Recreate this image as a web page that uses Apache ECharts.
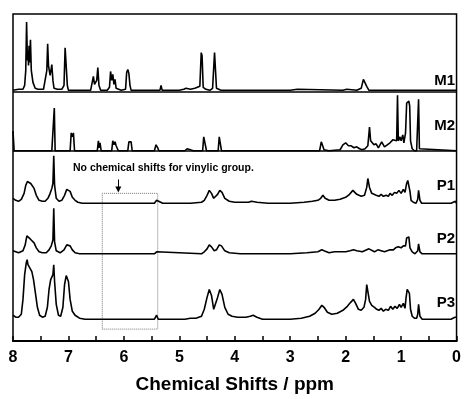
<!DOCTYPE html>
<html>
<head>
<meta charset="utf-8">
<script src="https://cdn.jsdelivr.net/npm/echarts@6/dist/echarts.min.js"></script>
<style>
  html, body { margin: 0; padding: 0; background: #fff; }
  #main { width: 464px; height: 399px; }
</style>
</head>
<body>
<div id="main"></div>
<script>
// [ppm, intensity above the trace's own baseline]
const m1 = [
  [8.0, 0], [7.9, 1], [7.82, 1], [7.79, 5], [7.77, 20], [7.755, 69], [7.74, 30], [7.73, 40], [7.72, 25],
  [7.71, 45], [7.70, 28], [7.685, 51], [7.67, 20], [7.64, 8], [7.6, 2], [7.55, 1], [7.45, 1], [7.42, 3],
  [7.39, 20], [7.375, 47], [7.36, 25], [7.33, 15], [7.30, 26], [7.28, 10], [7.26, 2], [7.2, 1], [7.12, 1],
  [7.08, 5], [7.06, 43], [7.04, 43], [7.02, 5], [7.0, 0], [6.9, 0], [6.6, 0], [6.57, 2], [6.55, 14],
  [6.53, 6], [6.49, 10], [6.47, 23], [6.45, 5], [6.42, 0], [6.3, 0], [6.26, 3], [6.24, 19], [6.22, 10],
  [6.2, 16], [6.18, 6], [6.16, 11], [6.14, 2], [6.05, 0], [5.97, 1], [5.95, 18], [5.93, 21], [5.91, 17],
  [5.89, 5], [5.87, 0], [5.7, 0], [5.35, 0], [5.33, 5], [5.31, 0], [5.0, 0], [4.92, 1], [4.88, 2],
  [4.8, 1], [4.72, 2], [4.63, 4], [4.605, 38], [4.59, 35], [4.57, 3], [4.52, 1], [4.45, 0], [4.40, 2],
  [4.365, 38], [4.345, 38], [4.33, 2], [4.25, 0], [3.0, 0], [2.87, 1], [2.85, 0], [2.05, 0], [1.98, 1],
  [1.8, 0], [1.72, 2], [1.68, 11], [1.65, 13], [1.62, 4], [1.58, 0], [0, 0]
];
const m2 = [
  [8.0, 20], [7.98, 0], [7.3, 0], [7.27, 0], [7.255, 43], [7.24, 0], [6.97, 0], [6.95, 18], [6.93, 14],
  [6.91, 18], [6.89, 0], [6.48, 0], [6.46, 10], [6.45, 3], [6.43, 8], [6.41, 0], [6.22, 0], [6.2, 10],
  [6.18, 6], [6.16, 9], [6.14, 5], [6.12, 7], [6.1, 0], [5.93, 0], [5.91, 9], [5.89, 8], [5.87, 9],
  [5.85, 0], [5.45, 0], [5.42, 6], [5.39, 3], [5.37, 0], [4.9, 0], [4.86, 2], [4.8, 1], [4.75, 0],
  [4.58, 0], [4.56, 14], [4.53, 14], [4.51, 0], [4.3, 0], [4.28, 14], [4.26, 14], [4.24, 0], [2.8, 0],
  [2.47, 0], [2.44, 9], [2.41, 8], [2.39, 1], [2.3, 0], [2.1, 1], [2.05, 6], [2.0, 8], [1.95, 5],
  [1.9, 5], [1.85, 3], [1.8, 4], [1.75, 2], [1.7, 1], [1.65, 2], [1.6, 5], [1.57, 24], [1.55, 10],
  [1.52, 12], [1.49, 6], [1.45, 7], [1.41, 3], [1.38, 6], [1.35, 9], [1.3, 4], [1.25, 6], [1.2, 8],
  [1.15, 11], [1.12, 9], [1.08, 10], [1.065, 56], [1.05, 10], [1.02, 14], [1.0, 10], [0.97, 16],
  [0.95, 8], [0.92, 18], [0.9, 48], [0.885, 50], [0.87, 46], [0.86, 50], [0.845, 45], [0.83, 10],
  [0.8, 2], [0.76, 0], [0.72, 0], [0.70, 2], [0.685, 52], [0.67, 2], [0.64, 0], [0, 0]
];
const p1 = [
  [8.0, 5], [7.95, 3], [7.9, 2], [7.85, 4], [7.8, 10], [7.77, 18], [7.74, 22], [7.71, 21], [7.68, 20],
  [7.65, 18], [7.62, 15], [7.58, 8], [7.53, 3], [7.47, 2], [7.42, 2], [7.37, 5], [7.33, 10], [7.3, 15],
  [7.28, 20], [7.265, 48], [7.25, 18], [7.22, 5], [7.17, 2], [7.12, 3], [7.07, 8], [7.03, 14], [7.0, 15],
  [6.97, 12], [6.93, 6], [6.88, 3], [6.83, 1], [6.75, 0], [6.0, 0], [5.45, 0], [5.41, 3], [5.38, 1],
  [5.3, 0], [4.8, 0], [4.6, 1], [4.55, 3], [4.5, 8], [4.46, 13], [4.42, 10], [4.38, 5], [4.35, 4],
  [4.31, 9], [4.27, 13], [4.23, 11], [4.18, 5], [4.1, 2], [4.0, 1], [3.75, 1], [3.7, 2], [3.6, 1],
  [3.4, 0], [3.0, 0], [2.75, 1], [2.6, 2], [2.5, 3], [2.45, 5], [2.41, 8], [2.37, 5], [2.3, 3], [2.2, 3],
  [2.1, 4], [2.0, 6], [1.93, 9], [1.87, 13], [1.8, 9], [1.72, 7], [1.66, 8], [1.62, 16], [1.6, 25],
  [1.57, 16], [1.53, 10], [1.49, 9], [1.45, 8], [1.4, 7], [1.36, 9], [1.32, 7], [1.27, 8], [1.23, 7],
  [1.2, 10], [1.16, 8], [1.12, 11], [1.08, 10], [1.04, 13], [1.0, 10], [0.96, 14], [0.93, 11], [0.9, 20],
  [0.88, 23], [0.86, 22], [0.84, 12], [0.82, 3], [0.78, 1], [0.73, 0], [0.7, 4], [0.685, 13], [0.66, 3],
  [0.63, 0], [0.1, 0], [0.02, 2], [0, 0]
];
const p2 = [
  [8.0, 3], [7.9, 1], [7.82, 3], [7.78, 9], [7.75, 18], [7.72, 16], [7.69, 15], [7.66, 13], [7.62, 11],
  [7.58, 6], [7.53, 2], [7.47, 1], [7.4, 1], [7.35, 4], [7.31, 8], [7.28, 14], [7.265, 46], [7.25, 12],
  [7.22, 3], [7.15, 1], [7.08, 4], [7.03, 9], [7.0, 11], [6.97, 8], [6.93, 4], [6.88, 1], [6.8, 0],
  [5.45, 0], [5.41, 2], [5.38, 0], [4.6, 0], [4.55, 2], [4.5, 5], [4.46, 9], [4.42, 7], [4.37, 3],
  [4.33, 4], [4.28, 9], [4.24, 8], [4.18, 3], [4.1, 1], [3.9, 0], [3.0, 0], [2.7, 1], [2.5, 2],
  [2.43, 4], [2.39, 3], [2.3, 1], [2.2, 2], [2.0, 2], [1.92, 3], [1.86, 4], [1.8, 3], [1.7, 2],
  [1.62, 4], [1.58, 5], [1.55, 3], [1.48, 2], [1.42, 4], [1.36, 3], [1.3, 2], [1.25, 3], [1.2, 4],
  [1.14, 4], [1.1, 6], [1.05, 7], [1.0, 6], [0.96, 8], [0.92, 8], [0.9, 16], [0.88, 18], [0.86, 17],
  [0.84, 6], [0.8, 2], [0.75, 0], [0.7, 3], [0.685, 10], [0.66, 2], [0.62, 0], [0, 0]
];
const p3 = [
  [8.0, 4], [7.95, 2], [7.9, 2], [7.85, 5], [7.82, 20], [7.79, 45], [7.76, 57], [7.745, 60], [7.73, 55],
  [7.715, 56], [7.7, 52], [7.68, 50], [7.66, 48], [7.63, 40], [7.6, 28], [7.56, 12], [7.52, 4],
  [7.47, 2], [7.42, 3], [7.38, 12], [7.35, 30], [7.32, 40], [7.3, 42], [7.28, 45], [7.265, 55],
  [7.25, 38], [7.22, 15], [7.18, 4], [7.14, 3], [7.1, 12], [7.07, 35], [7.04, 44], [7.02, 42], [7.0, 38],
  [6.97, 20], [6.93, 8], [6.88, 4], [6.8, 1], [6.7, 0], [6.0, 0], [5.45, 0], [5.41, 4], [5.38, 0],
  [4.9, 0], [4.8, 1], [4.7, 1], [4.6, 3], [4.55, 10], [4.5, 22], [4.46, 30], [4.42, 24], [4.38, 10],
  [4.35, 8], [4.31, 22], [4.27, 30], [4.23, 25], [4.18, 12], [4.12, 5], [4.05, 3], [3.95, 2], [3.8, 2],
  [3.72, 3], [3.67, 4], [3.6, 2], [3.5, 0], [3.0, 0], [2.8, 1], [2.65, 3], [2.55, 6], [2.48, 10],
  [2.43, 14], [2.39, 12], [2.33, 7], [2.25, 5], [2.15, 6], [2.05, 9], [1.97, 13], [1.91, 17], [1.86, 20],
  [1.82, 16], [1.77, 10], [1.72, 9], [1.67, 12], [1.64, 20], [1.62, 35], [1.6, 28], [1.57, 18],
  [1.53, 14], [1.48, 12], [1.44, 10], [1.4, 9], [1.36, 11], [1.32, 8], [1.28, 10], [1.23, 9], [1.19, 13],
  [1.15, 10], [1.11, 13], [1.07, 11], [1.03, 15], [1.0, 12], [0.96, 16], [0.93, 11], [0.91, 22],
  [0.89, 30], [0.87, 29], [0.85, 26], [0.83, 10], [0.8, 3], [0.76, 1], [0.72, 1], [0.7, 5], [0.685, 15],
  [0.66, 3], [0.62, 0], [0.1, 0], [0.03, 2], [0, 2]
];

const traceNames = ['M1', 'M2', 'P1', 'P2', 'P3'];
const traces = [m1, m2, p1, p2, p3];
const offsets = [253, 192, 139, 88, 22];   // stacking baseline of each trace
const dividers = [252, 192];               // panel lines under M1 and M2
const xTicks = [0, 1, 2, 3, 4, 5, 6, 7, 8];
const noteText = 'No chemical shifts for vinylic group.';
const boxRange = [6.39, 5.39];             // ppm span of the dotted box

const chart = echarts.init(document.getElementById('main'));

const series = traces.map((tr, i) => ({
  name: traceNames[i],
  type: 'line',
  data: tr.map(p => [p[0], p[1] + offsets[i]]),
  showSymbol: false,
  symbol: 'none',
  silent: true,
  lineStyle: {color: '#000', width: 1.6},
  z: 3,
}));

series[0].markLine = {
  silent: true,
  symbol: 'none',
  label: {show: false},
  lineStyle: {color: '#000', width: 1.5, type: 'solid'},
  data: dividers.map(v => ({yAxis: v})),
};
series[2].markLine = {
  silent: true,
  symbol: ['none', 'triangle'],
  symbolSize: 6,
  label: {show: false},
  lineStyle: {color: '#000', width: 1, type: 'solid'},
  data: [[{coord: [6.1, 163]}, {coord: [6.1, 153]}]],
};
series[4].markArea = {
  silent: true,
  itemStyle: {color: 'rgba(0,0,0,0)', borderColor: '#777', borderWidth: 1, borderType: 'dotted'},
  data: [[{xAxis: boxRange[0], yAxis: 12}, {xAxis: boxRange[1], yAxis: 149}]],
};

const labelY = [80.5, 125.5, 186, 239, 302.5];

let option = {
  animation: false,
  backgroundColor: '#fff',
  grid: {
    left: 13, right: 3, top: 14, bottom: 55,
    show: true, borderColor: '#000', borderWidth: 1.5,
  },
  xAxis: {
    type: 'value',
    inverse: true,
    min: 0,
    max: 8,
    interval: 1,
    name: 'Chemical Shifts / ppm',
    nameLocation: 'middle',
    nameGap: 34,
    nameTextStyle: {color: '#000', fontFamily: 'Arial, Liberation Sans', fontWeight: 'bold', fontSize: 19},
    axisLine: {lineStyle: {color: '#000', width: 2}},
    axisTick: {inside: true, length: 5, lineStyle: {color: '#000', width: 1.5}},
    minorTick: {show: true, splitNumber: 2, length: 5, lineStyle: {color: '#000', width: 1.5}},
    splitLine: {show: false},
    axisLabel: {
      color: '#000', fontFamily: 'Arial, Liberation Sans', fontWeight: 'bold', fontSize: 16, margin: 9,
      formatter: v => xTicks.includes(v) ? String(v) : '',
    },
  },
  yAxis: {
    type: 'value',
    min: 0,
    max: 330,
    show: false,
    splitLine: {show: false},
  },
  series: series,
  graphic: [
    {
      type: 'text',
      left: 73, top: 163,
      style: {text: noteText, fill: '#000', font: 'bold 10.5px Arial, Liberation Sans'},
    },
    ...traceNames.map((n, i) => ({
      type: 'text',
      style: {
        text: n, x: 455, y: labelY[i], textAlign: 'right', textVerticalAlign: 'middle',
        fill: '#000', font: 'bold 15px Arial, Liberation Sans',
      },
    })),
  ],
};

chart.setOption(option);
</script>
</body>
</html>
